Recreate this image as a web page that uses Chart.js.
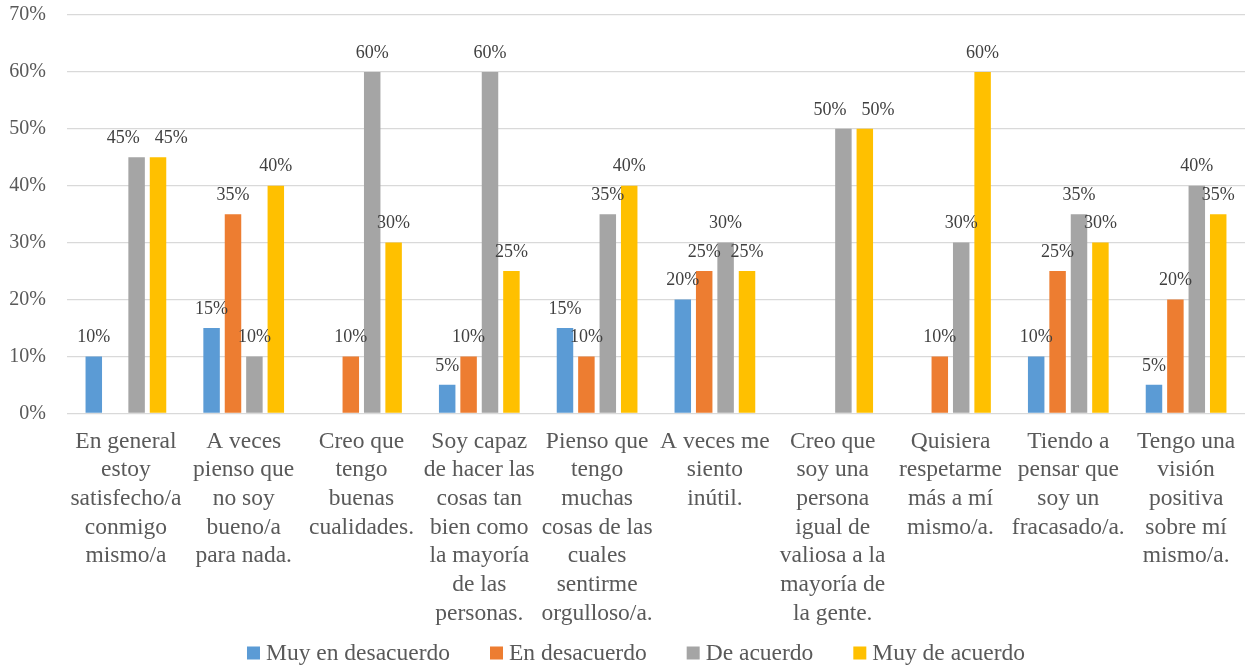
<!DOCTYPE html>
<html lang="es">
<head>
<meta charset="utf-8">
<title>Autoestima</title>
<script src="https://cdn.jsdelivr.net/npm/chart.js@4.4.1/dist/chart.umd.min.js"></script>
<style>
  html, body { margin: 0; padding: 0; background: #ffffff; }
  #wrap { width: 1251px; height: 666px; }
</style>
</head>
<body>
<div id="wrap"><canvas id="chart" width="1251" height="666"></canvas></div>
<script>
// items of the questionnaire, wrapped the way they sit under each group
const categories = [
  ["En general", "estoy", "satisfecho/a", "conmigo", "mismo/a"],
  ["A veces", "pienso que", "no soy", "bueno/a", "para nada."],
  ["Creo que", "tengo", "buenas", "cualidades."],
  ["Soy capaz", "de hacer las", "cosas tan", "bien como", "la mayoría", "de las", "personas."],
  ["Pienso que", "tengo", "muchas", "cosas de las", "cuales", "sentirme", "orgulloso/a."],
  ["A veces me", "siento", "inútil."],
  ["Creo que", "soy una", "persona", "igual de", "valiosa a la", "mayoría de", "la gente."],
  ["Quisiera", "respetarme", "más a mí", "mismo/a."],
  ["Tiendo a", "pensar que", "soy un", "fracasado/a."],
  ["Tengo una", "visión", "positiva", "sobre mí", "mismo/a."]
];

const seriesNames = ["Muy en desacuerdo", "En desacuerdo", "De acuerdo", "Muy de acuerdo"];
const seriesColors = ["#5b9bd5", "#ed7d31", "#a5a5a5", "#ffc000"];

// percentages per answer
const muyEnDesacuerdo = [10, 15, 0, 5, 15, 20, 0, 0, 10, 5];
const enDesacuerdo    = [0, 35, 10, 10, 10, 25, 0, 10, 25, 20];
const deAcuerdo       = [45, 10, 60, 60, 35, 30, 50, 30, 35, 40];
const muyDeAcuerdo    = [45, 40, 30, 25, 40, 25, 50, 60, 30, 35];

const yTicks = [0, 10, 20, 30, 40, 50, 60, 70];

const FONT = "'Liberation Serif', 'Times New Roman', serif";
const TEXT = "#595959";

// percent label on top of every non-empty bar; labels of neighbouring
// bars that sit at the same height get pushed apart so they don't collide
const barLabels = {
  id: "barLabels",
  afterDatasetsDraw(chart) {
    const ctx = chart.ctx;
    const lift = 10, textH = 18, sep = 15;
    ctx.save();
    ctx.font = "18px " + FONT;
    ctx.fillStyle = "#404040";
    ctx.textAlign = "center";
    ctx.textBaseline = "bottom";
    const n = chart.data.labels.length;
    for (let j = 0; j < n; j++) {
      const items = [];
      chart.data.datasets.forEach((ds, i) => {
        const v = ds.data[j];
        if (!v) return;
        const bar = chart.getDatasetMeta(i).data[j];
        const text = v + "%";
        items.push({ text, x: bar.x, y: bar.y - lift, w: ctx.measureText(text).width });
      });
      for (let pass = 0; pass < 3; pass++) {
        for (let k = 1; k < items.length; k++) {
          const a = items[k - 1], b = items[k];
          if (Math.abs(a.y - b.y) >= textH) continue;
          const need = (a.w + b.w) / 2 + sep - (b.x - a.x);
          if (need > 0) { a.x -= need / 2; b.x += need / 2; }
        }
      }
      items.forEach(it => ctx.fillText(it.text, it.x, it.y));
    }
    ctx.restore();
  }
};

// single-row legend along the bottom edge
const bottomLegend = {
  id: "bottomLegend",
  afterDraw(chart) {
    const ctx = chart.ctx;
    const box = 13, gapText = 6, gapItem = 40;
    ctx.save();
    ctx.font = "23.5px " + FONT;
    const widths = chart.data.datasets.map(ds => ctx.measureText(ds.label).width);
    const total = widths.reduce((a, w) => a + box + gapText + w, 0) + gapItem * (widths.length - 1);
    let x = 636 - total / 2;
    const cy = 653;
    ctx.textBaseline = "middle";
    ctx.textAlign = "left";
    chart.data.datasets.forEach((ds, i) => {
      ctx.fillStyle = ds.backgroundColor;
      ctx.fillRect(x, cy - box / 2, box, box);
      ctx.fillStyle = TEXT;
      ctx.fillText(ds.label, x + box + gapText, cy + 1);
      x += box + gapText + widths[i] + gapItem;
    });
    ctx.restore();
  }
};

const values = [muyEnDesacuerdo, enDesacuerdo, deAcuerdo, muyDeAcuerdo];

new Chart(document.getElementById("chart"), {
  type: "bar",
  data: {
    labels: categories,
    datasets: seriesNames.map((name, i) => ({
      label: name,
      data: values[i],
      backgroundColor: seriesColors[i],
      borderWidth: 0,
      categoryPercentage: 0.727,
      barPercentage: 0.77
    }))
  },
  options: {
    responsive: false,
    animation: false,
    layout: { padding: { top: 15, left: 0, right: 6, bottom: 24 } },
    plugins: {
      tooltip: { enabled: false },
      legend: { display: false }
    },
    scales: {
      x: {
        grid: { display: false, drawTicks: false },
        border: { display: false },
        ticks: {
          autoSkip: false,
          maxRotation: 0,
          minRotation: 0,
          padding: 14,
          color: TEXT,
          font: { family: FONT, size: 23.5, lineHeight: 1.22 }
        }
      },
      y: {
        min: 0,
        max: 70,
        afterBuildTicks(axis) {
          axis.ticks = yTicks.map(v => ({ value: v }));
        },
        afterFit(axis) {
          axis.width = 67;
          axis.paddingTop = 0;
          axis.paddingBottom = 0;
        },
        grid: { color: "#d9d9d9", lineWidth: 1.2, drawTicks: false },
        border: { display: false },
        ticks: {
          padding: 21,
          color: TEXT,
          font: { family: FONT, size: 20 },
          callback: v => v + "%"
        }
      }
    }
  },
  plugins: [barLabels, bottomLegend]
});
</script>
</body>
</html>
